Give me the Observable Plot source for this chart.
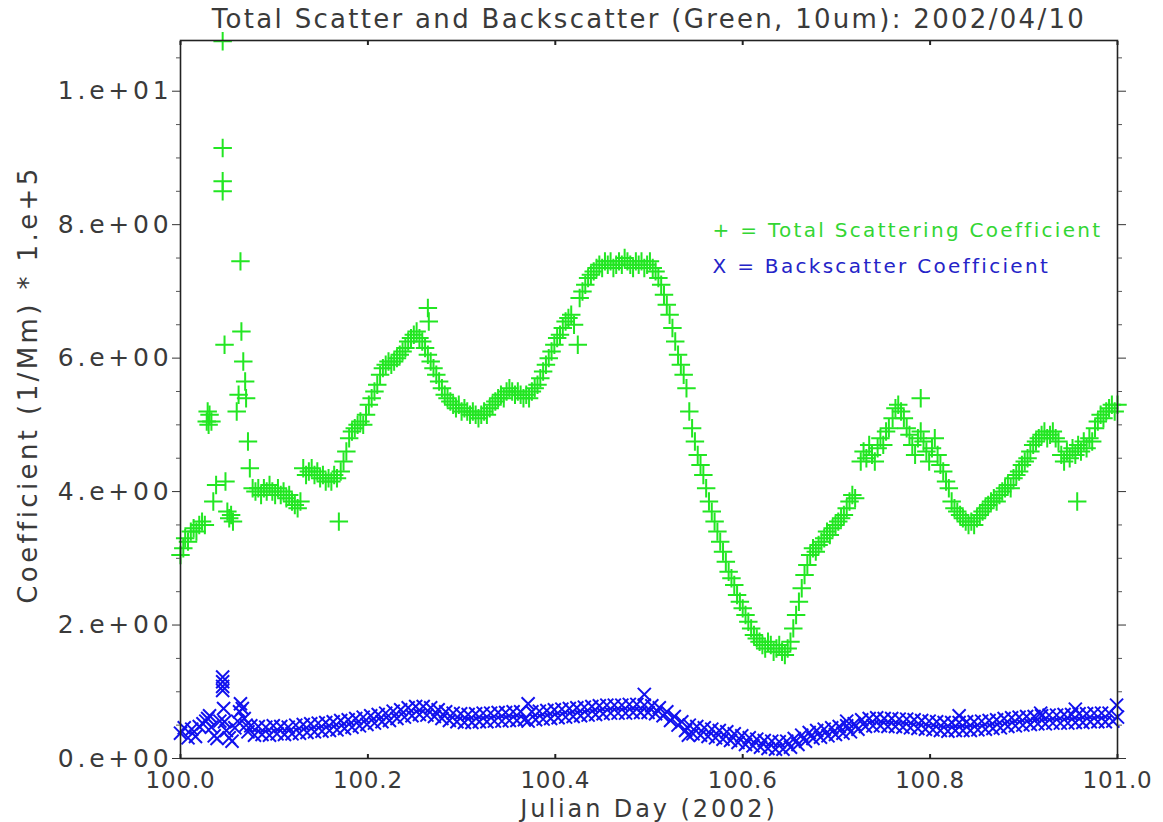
<!DOCTYPE html>
<html><head><meta charset="utf-8">
<script src="https://cdn.jsdelivr.net/npm/d3@7"></script>
<script src="https://cdn.jsdelivr.net/npm/@observablehq/plot@0.6"></script>
<style>
html,body{margin:0;padding:0;background:#fff}
g[aria-label="y-axis tick label"] text{letter-spacing:3.8px}
g[aria-label="x-axis tick label"] text{letter-spacing:0.8px}
.ttl text{letter-spacing:2.3px}
.xttl text{letter-spacing:2.9px}
.yttl text{letter-spacing:3.4px}
.lgd text{letter-spacing:2.3px}
</style>
</head><body><div id="chart"></div>
<script>
// ---- Total scattering coefficient (green +) ----
const totalDay = [
100.000,100.003,100.005,100.008,100.011,100.014,100.017,100.020,100.023,100.026,
100.028,100.029,100.030,100.031,100.033,100.035,100.038,
100.045,100.045,100.045,100.045,100.047,100.048,100.050,100.052,100.054,100.056,
100.060,100.062,100.064,100.065,100.067,100.069,100.070,100.072,100.074,
100.077,100.080,100.083,100.086,100.089,100.092,100.095,100.098,100.101,100.104,100.107,100.110,100.113,100.116,100.119,100.122,100.125,100.128,
100.131,100.134,100.137,100.140,100.143,100.146,100.149,100.152,100.155,100.158,100.161,100.164,
100.169,
100.167,100.171,100.174,100.177,100.180,100.183,100.186,100.189,100.192,100.195,100.198,100.201,100.204,100.207,100.210,100.213,100.216,100.219,100.222,100.225,100.228,100.231,100.234,100.237,100.240,100.243,100.246,100.249,100.252,100.255,100.258,
100.264,100.265,
100.261,100.264,100.267,100.270,100.273,100.276,100.279,100.282,100.285,100.288,100.291,100.294,100.297,100.300,100.303,100.306,100.309,100.312,100.315,100.318,100.321,100.324,100.327,100.330,100.333,100.336,100.339,100.342,100.345,100.348,100.351,100.354,100.357,100.360,100.363,100.366,100.369,100.372,100.375,100.378,100.381,100.384,100.387,100.390,100.393,100.396,100.399,100.402,100.405,100.408,100.411,100.414,100.417,100.420,
100.424,
100.426,100.429,100.432,100.435,100.438,100.441,100.444,100.447,100.450,100.453,100.456,100.459,100.462,100.465,100.468,100.471,100.474,100.477,100.480,100.483,100.486,100.489,100.492,100.495,100.498,100.501,100.504,100.507,100.510,100.513,100.516,100.519,100.522,100.525,100.528,100.531,100.534,100.537,100.540,100.543,100.546,100.549,100.552,100.555,100.558,100.561,100.564,100.567,100.570,100.573,100.576,100.579,100.582,100.585,100.588,100.591,100.594,100.597,100.600,100.603,100.606,100.609,100.612,100.615,100.618,100.621,100.624,100.627,100.630,100.633,100.636,100.639,100.642,100.645,100.648,100.651,100.654,100.657,100.660,100.663,100.666,100.669,100.672,100.675,100.678,100.681,100.684,100.687,100.690,100.693,100.696,100.699,100.702,100.705,100.708,100.711,100.714,100.717,100.720,
100.726,100.729,100.732,100.735,100.738,100.741,100.744,100.747,100.750,100.753,100.756,
100.760,100.763,100.766,100.769,100.772,100.775,100.778,
100.790,
100.781,100.784,100.787,100.790,100.793,100.796,100.799,100.802,100.805,100.808,100.811,100.814,100.817,100.820,
100.823,100.826,100.829,100.832,100.835,100.838,100.841,100.844,100.847,100.850,100.853,100.856,100.859,
100.862,100.865,100.868,100.871,100.874,100.877,100.880,100.883,100.886,100.889,100.892,100.895,100.898,100.901,100.904,100.907,100.910,100.913,100.916,100.919,
100.922,100.925,100.928,100.931,100.934,100.937,
100.940,100.943,100.946,100.949,100.952,100.955,100.958,100.961,100.964,100.967,100.970,100.973,
100.957,
100.976,100.979,100.982,100.985,100.988,100.991,100.994,100.997,101.000
];
const totalCoef = [
3.05,3.15,3.30,3.25,3.40,3.45,3.40,3.50,3.55,3.50,
5.05,5.20,5.00,5.15,5.05,3.85,4.10,
10.75,9.15,8.65,8.50,6.20,4.15,3.70,3.60,3.65,3.55,
5.20,5.45,7.45,6.40,5.95,5.65,5.40,4.75,4.35,
4.05,4.00,4.05,3.95,4.05,4.00,4.10,4.00,3.95,4.05,3.95,4.00,3.90,3.95,3.85,3.80,3.75,3.85,
4.35,4.25,4.30,4.35,4.25,4.30,4.20,4.25,4.15,4.20,4.15,4.25,
3.55,
4.20,4.30,4.45,4.60,4.80,4.90,4.95,5.00,5.05,5.00,5.15,5.30,5.40,5.50,5.60,5.75,5.85,5.90,5.95,5.90,5.95,6.00,6.05,6.10,6.15,6.25,6.30,6.35,6.40,6.30,6.25,
6.75,6.55,
6.15,6.05,5.95,5.85,5.75,5.65,5.55,5.45,5.40,5.35,5.30,5.25,5.30,5.20,5.25,5.20,5.15,5.20,5.15,5.10,5.15,5.20,5.15,5.25,5.30,5.35,5.40,5.45,5.40,5.50,5.55,5.50,5.45,5.50,5.45,5.40,5.45,5.40,5.50,5.55,5.60,5.70,5.80,5.90,6.00,6.10,6.20,6.30,6.35,6.45,6.55,6.60,6.65,6.50,
6.20,
6.90,7.00,7.10,7.20,7.25,7.30,7.35,7.40,7.35,7.45,7.40,7.45,7.35,7.40,7.45,7.40,7.50,7.45,7.40,7.35,7.45,7.40,7.45,7.35,7.40,7.45,7.35,7.30,7.20,7.10,6.95,6.80,6.65,6.45,6.25,6.05,5.90,5.75,5.55,5.20,4.95,4.75,4.55,4.40,4.25,4.05,3.85,3.70,3.55,3.40,3.25,3.10,2.95,2.80,2.70,2.60,2.45,2.35,2.25,2.15,2.05,1.95,1.85,1.80,1.75,1.70,1.65,1.75,1.70,1.60,1.65,1.70,1.60,1.55,1.65,1.75,1.95,2.15,2.35,2.55,2.75,2.90,3.05,3.15,3.10,3.20,3.25,3.30,3.40,3.35,3.45,3.50,3.55,3.60,3.65,3.75,3.85,3.95,3.90,
4.45,4.60,4.50,4.70,4.55,4.45,4.65,4.80,4.70,4.90,4.95,
5.10,5.25,5.30,5.20,5.10,4.95,4.85,
5.40,
4.70,4.55,4.80,4.90,4.75,4.60,4.45,4.65,4.80,4.55,4.40,4.30,4.15,4.05,
3.85,3.75,3.70,3.65,3.60,3.55,3.50,3.55,3.50,3.60,3.65,3.70,3.75,
3.80,3.85,3.90,3.85,3.95,4.00,4.05,4.10,4.05,4.20,4.25,4.30,4.40,4.45,4.50,4.60,4.70,4.75,4.80,4.85,
4.90,4.80,4.85,4.90,4.80,4.75,
4.55,4.45,4.60,4.50,4.65,4.55,4.70,4.60,4.75,4.65,4.80,4.75,
3.85,
4.95,5.05,5.15,5.10,5.20,5.25,5.30,5.20,5.30
];

// ---- Backscatter coefficient (blue x) ----
const backDay = [
100.000,100.004,100.008,100.012,100.016,100.020,100.024,100.027,100.029,100.031,100.033,100.036,100.039,100.042,
100.045,100.045,100.045,100.045,100.046,100.047,
100.049,100.052,100.055,100.058,100.061,100.063,100.064,100.066,100.068,100.070,100.072,
100.075,100.079,100.083,100.087,100.091,100.095,100.099,100.103,100.107,100.111,100.115,100.119,100.123,100.127,100.131,100.135,100.139,100.143,100.147,100.151,100.155,100.159,100.163,100.167,100.171,100.175,100.179,100.183,100.187,100.191,100.195,100.199,100.203,100.207,100.211,100.215,100.219,100.223,100.227,100.231,100.235,100.239,100.243,100.247,100.251,100.255,100.259,100.263,100.267,100.271,100.275,100.279,100.283,100.287,100.291,100.295,100.299,100.303,100.307,100.311,100.315,100.319,100.323,100.327,100.331,100.335,100.339,100.343,100.347,100.351,100.355,100.359,100.363,100.367,
100.371,
100.371,100.375,100.379,100.383,100.387,100.391,100.395,100.399,100.403,100.407,100.411,100.415,100.419,100.423,100.427,100.431,100.435,100.439,100.443,100.447,100.451,100.455,100.459,100.463,100.467,100.471,100.475,100.479,100.483,100.487,100.491,
100.495,
100.495,100.499,100.503,100.507,100.511,100.515,100.519,100.523,100.527,100.531,100.535,100.539,
100.542,
100.543,100.547,100.551,100.555,100.559,100.563,100.567,100.571,100.575,100.579,100.583,100.587,100.591,100.595,100.599,100.603,100.607,100.611,100.615,100.619,100.623,100.627,100.631,100.635,100.639,100.643,100.647,100.651,100.655,100.659,100.663,100.667,100.671,100.675,100.679,100.683,100.687,100.691,100.695,100.699,100.703,100.707,
100.711,
100.711,100.715,100.719,100.723,100.727,100.731,100.735,100.739,100.743,100.747,100.751,100.755,100.759,100.763,100.767,100.771,100.775,100.779,100.783,100.787,100.791,100.795,100.799,100.803,100.807,100.811,100.815,100.819,100.823,100.827,
100.831,
100.831,100.835,100.839,100.843,100.847,100.851,100.855,100.859,100.863,100.867,100.871,100.875,100.879,100.883,100.887,100.891,100.895,100.899,100.903,100.907,100.911,
100.918,
100.915,100.919,100.923,100.927,100.931,100.935,100.939,100.943,100.947,100.951,
100.955,
100.955,100.959,100.963,100.967,100.971,100.975,100.979,100.983,100.987,100.991,100.995,
100.999,101.000
];
const backCoef = [
0.38,0.46,0.31,0.44,0.33,0.48,0.52,0.56,0.60,0.64,0.47,0.34,0.30,0.56,
1.22,1.15,1.08,1.02,0.75,0.55,
0.42,0.31,0.26,0.46,0.56,0.70,0.82,0.75,0.60,0.50,0.40,
0.49,0.35,0.48,0.36,0.47,0.35,0.49,0.37,0.48,0.36,0.47,0.37,0.50,0.38,0.51,0.39,0.52,0.40,0.53,0.41,0.54,0.42,0.55,0.43,0.57,0.45,0.58,0.47,0.60,0.49,0.62,0.51,0.64,0.53,0.66,0.55,0.68,0.57,0.71,0.60,0.73,0.62,0.76,0.64,0.78,0.66,0.78,0.65,0.76,0.63,0.73,0.60,0.70,0.57,0.68,0.55,0.67,0.54,0.66,0.54,0.67,0.55,0.68,0.55,0.68,0.56,0.69,0.56,0.69,0.57,0.70,0.57,0.70,0.58,
0.82,
0.56,0.70,0.58,0.71,0.59,0.72,0.60,0.73,0.61,0.74,0.62,0.75,0.63,0.76,0.64,0.77,0.65,0.78,0.66,0.79,0.67,0.80,0.68,0.80,0.68,0.80,0.68,0.81,0.69,0.81,0.69,
0.96,
0.80,0.69,0.79,0.67,0.76,0.64,0.70,0.57,0.63,0.50,0.55,0.42,
0.35,
0.50,0.37,0.48,0.35,0.46,0.33,0.44,0.31,0.42,0.29,0.40,0.27,0.37,0.24,0.34,0.21,0.31,0.19,0.29,0.17,0.27,0.15,0.26,0.14,0.25,0.14,0.26,0.17,0.30,0.21,0.35,0.26,0.39,0.30,0.42,0.32,0.44,0.34,0.46,0.36,0.48,0.38,
0.56,
0.49,0.40,0.52,0.44,0.58,0.48,0.60,0.49,0.61,0.49,0.60,0.48,0.60,0.48,0.59,0.47,0.59,0.46,0.58,0.45,0.57,0.44,0.56,0.43,0.55,0.42,0.54,0.41,0.54,0.42,
0.64,
0.54,0.42,0.55,0.42,0.55,0.43,0.56,0.44,0.57,0.45,0.58,0.46,0.60,0.48,0.61,0.49,0.62,0.50,0.63,0.51,0.63,
0.68,
0.52,0.64,0.52,0.65,0.53,0.65,0.53,0.66,0.53,0.66,
0.74,
0.54,0.67,0.54,0.67,0.55,0.68,0.55,0.68,0.55,0.68,0.56,
0.80,0.62
];

// ---- Axis ticks and texts ----
const yMajorTicks = [0, 2, 4, 6, 8, 10];
const yMinorTicks = [0.5, 1, 1.5, 2.5, 3, 3.5, 4.5, 5, 5.5, 6.5, 7, 7.5, 8.5, 9, 9.5, 10.5];
const xTicks = [100.0, 100.2, 100.4, 100.6, 100.8, 101.0];
const titleText = "Total Scatter and Backscatter (Green, 10um): 2002/04/10";
const xTitle = "Julian Day (2002)";
const yTitle = "Coefficient (1/Mm) * 1.e+5";
const legendTotal = "+ = Total Scattering Coefficient";
const legendBack = "X = Backscatter Coefficient";

const GREEN = "#22e622";
const BLUE = "#1212ee";
const INK = "#3a3a3a";

const total = totalDay.map((d, i) => ({day: d, coef: totalCoef[i]}));
const back = backDay.map((d, i) => ({day: d, coef: backCoef[i]}));

const fmtY = v => {
  if (v === 0) return "0.e+00";
  const e = Math.floor(Math.log10(v) + 1e-9);
  const m = Math.round(v / Math.pow(10, e));
  return `${m}.e+${String(e).padStart(2, "0")}`;
};
const blank = () => "";

const chart = Plot.plot({
  width: 1163, height: 822,
  marginLeft: 180, marginRight: 46, marginTop: 40, marginBottom: 64,
  x: {domain: [100, 101]},
  y: {domain: [0, 10.76]},
  style: {fontFamily: "'DejaVu Sans', sans-serif", background: "#fff", color: INK},
  marks: [
    Plot.dot(back, {x: "day", y: "coef", symbol: "times", r: 6, stroke: BLUE, strokeWidth: 2}),
    Plot.dot(total, {x: "day", y: "coef", symbol: "plus", r: 6, stroke: GREEN, strokeWidth: 2}),
    Plot.frame({stroke: "#222", strokeWidth: 1.6}),
    Plot.axisY({ticks: yMajorTicks, tickSize: 8, tickPadding: 0, tickFormat: fmtY, fontSize: 25, label: null, stroke: "#333"}),
    Plot.axisY({ticks: yMinorTicks, tickSize: 4, tickFormat: blank, label: null, stroke: "#555"}),
    Plot.axisY({anchor: "right", ticks: yMajorTicks, tickSize: 8, tickFormat: blank, label: null, stroke: "#333"}),
    Plot.axisY({anchor: "right", ticks: yMinorTicks, tickSize: 4, tickFormat: blank, label: null, stroke: "#555"}),
    Plot.axisX({ticks: xTicks, tickSize: -4, tickPadding: 17, tickFormat: d => d.toFixed(1), fontSize: 23, label: null, stroke: "#222", strokeWidth: 2}),
    Plot.axisX({anchor: "top", ticks: xTicks, tickSize: -4, tickFormat: blank, label: null, stroke: "#222", strokeWidth: 2}),
    Plot.text([titleText], {text: d => d, frameAnchor: "top", lineAnchor: "middle", dy: -21, fontSize: 26, fill: INK, className: "ttl"}),
    Plot.text([xTitle], {text: d => d, frameAnchor: "bottom", lineAnchor: "middle", dy: 51, fontSize: 24, fill: INK, className: "xttl"}),
    Plot.text([yTitle], {text: d => d, frameAnchor: "left", textAnchor: "middle", lineAnchor: "middle", dx: -152, dy: -15, rotate: -90, fontSize: 26, fill: INK, className: "yttl"}),
    Plot.text([legendTotal], {text: d => d, frameAnchor: "top-left", lineAnchor: "middle", dx: 532, dy: 190, textAnchor: "start", fontSize: 20, fill: "#33d633", className: "lgd"}),
    Plot.text([legendBack], {text: d => d, frameAnchor: "top-left", lineAnchor: "middle", dx: 532, dy: 226, textAnchor: "start", fontSize: 20, fill: "#2424c8", className: "lgd"})
  ]
});
document.getElementById("chart").appendChild(chart);
</script>
</body></html>
